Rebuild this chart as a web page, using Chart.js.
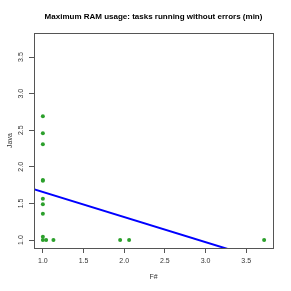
<!DOCTYPE html>
<html>
<head>
<meta charset="utf-8">
<script src="https://cdn.jsdelivr.net/npm/chart.js@4.4.0/dist/chart.umd.min.js"></script>
<style>
  html, body { margin: 0; padding: 0; background: #fff; }
  #wrap { width: 291px; height: 291px; }
</style>
</head>
<body>
<div id="wrap"><canvas id="plot"></canvas></div>
<script>
// F# vs Java, min RAM of tasks running without errors
var fsharpVals = [1.0, 1.0, 1.0, 1.0, 1.0, 1.0, 1.0, 1.0, 1.0, 1.0, 1.04, 1.13, 1.95, 2.06, 3.72];
var javaVals   = [2.69, 2.46, 2.31, 1.81, 1.82, 1.565, 1.49, 1.36, 1.045, 1.0, 1.0, 1.0, 1.0, 1.0, 1.0];

// fitted line (intercept, slope)
var fitIntercept = 2.0;
var fitSlope = -0.343;
var fitX = [0.5, 4.0];

var tickVals = [1.0, 1.5, 2.0, 2.5, 3.0, 3.5];
var axisMin = 0.891;
var axisMax = 3.829;
var titleText = "Maximum RAM usage: tasks running without errors (min)";

var points = [];
for (let i = 0; i < fsharpVals.length; i++) {
    points.push({ x: fsharpVals[i], y: javaVals[i] });
}
var fitLine = fitX.map(function (x) { return { x: x, y: fitIntercept + fitSlope * x }; });

var axisGrey = "#555555";
var labelGrey = "#333333";
var fontFam = "'Liberation Sans', Arial, sans-serif";

// box around plot, title over plot, rotated y tick labels (R style)
var rStyle = {
    id: "rStyle",
    afterDraw: function (chart) {
        var ctx = chart.ctx;
        var a = chart.chartArea;
        ctx.save();
        ctx.strokeStyle = axisGrey;
        ctx.lineWidth = 1;
        ctx.strokeRect(a.left + 0.5, a.top + 0.5, a.right - a.left, a.bottom - a.top);

        ctx.fillStyle = "#000";
        ctx.font = "bold 8px " + fontFam;
        ctx.textAlign = "center";
        ctx.textBaseline = "middle";
        ctx.fillText(titleText, (a.left + a.right) / 2, 17);

        var ys = chart.scales.y;
        ctx.fillStyle = labelGrey;
        ctx.font = "7px " + fontFam;
        tickVals.forEach(function (v) {
            var py = ys.getPixelForValue(v);
            ctx.save();
            ctx.translate(21, py);
            ctx.rotate(-Math.PI / 2);
            ctx.fillText(v.toFixed(1), 0, 0);
            ctx.restore();
        });
        ctx.restore();
    }
};

var ctx = document.getElementById("plot");
var myChart = new Chart(ctx, {
    type: "scatter",
    data: {
        datasets: [
            {
                label: "tasks",
                data: points,
                backgroundColor: "#2ca02c",
                borderColor: "#2ca02c",
                pointRadius: 2,
                pointBorderWidth: 0
            },
            {
                type: "line",
                label: "fit",
                data: fitLine,
                borderColor: "#0000ff",
                borderWidth: 2,
                pointRadius: 0,
                fill: false
            }
        ]
    },
    options: {
        responsive: true,
        maintainAspectRatio: false,
        animation: false,
        layout: { padding: { top: 33, right: 18, left: 0, bottom: 0 } },
        plugins: {
            legend: { display: false },
            tooltip: { enabled: false },
            title: { display: false }
        },
        scales: {
            x: {
                type: "linear",
                min: axisMin,
                max: axisMax,
                afterFit: function (s) { s.height = 43; },
                afterBuildTicks: function (s) {
                    s.ticks = tickVals.map(function (v) { return { value: v }; });
                },
                grid: {
                    drawOnChartArea: false,
                    drawTicks: true,
                    tickLength: 5,
                    color: axisGrey
                },
                border: { display: false },
                ticks: {
                    color: labelGrey,
                    padding: 4,
                    maxRotation: 0,
                    font: { size: 7, family: fontFam },
                    callback: function (v) { return v.toFixed(1); }
                },
                title: {
                    display: true,
                    text: "F#",
                    color: labelGrey,
                    font: { size: 7, family: fontFam },
                    padding: { top: 0, bottom: 10 }
                }
            },
            y: {
                type: "linear",
                min: axisMin,
                max: axisMax,
                afterFit: function (s) { s.width = 34; },
                afterBuildTicks: function (s) {
                    s.ticks = tickVals.map(function (v) { return { value: v }; });
                },
                grid: {
                    drawOnChartArea: false,
                    drawTicks: true,
                    tickLength: 5,
                    color: axisGrey
                },
                border: { display: false },
                ticks: {
                    display: true,
                    color: "rgba(0,0,0,0)",
                    font: { size: 7 },
                    callback: function () { return ""; }
                },
                title: {
                    display: true,
                    text: "Java",
                    color: labelGrey,
                    font: { size: 7, family: fontFam },
                    padding: { top: 6, bottom: 0 }
                }
            }
        }
    },
    plugins: [rStyle]
});
</script>
</body>
</html>
